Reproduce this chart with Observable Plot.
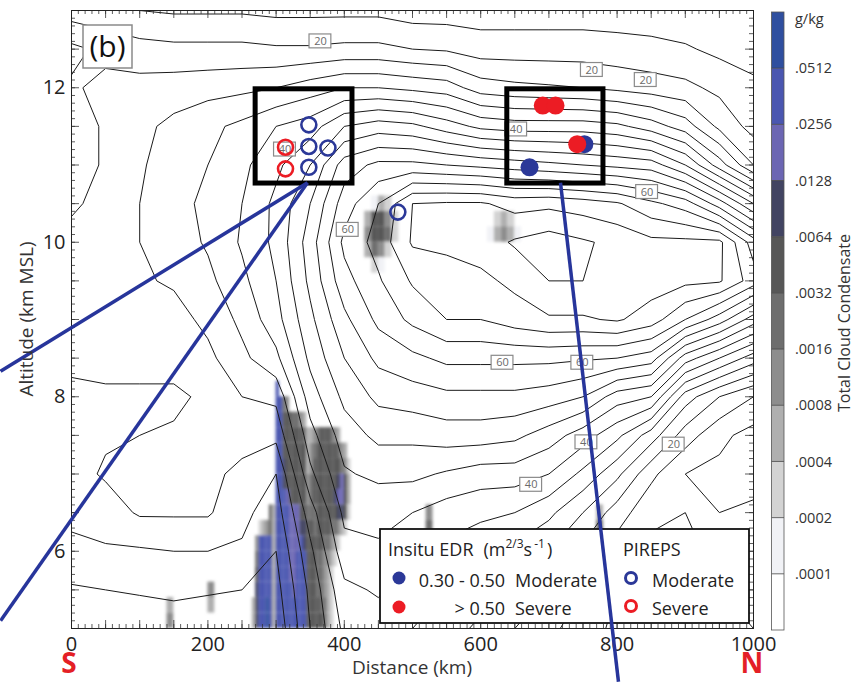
<!DOCTYPE html>
<html><head><meta charset="utf-8">
<script src="https://cdn.jsdelivr.net/npm/d3@7"></script>
<script src="https://cdn.jsdelivr.net/npm/@observablehq/plot@0.6"></script>
<style>
html,body{margin:0;padding:0;background:#fff;}
#chart{position:relative;width:856px;height:682px;}
</style></head><body><div id="chart"></div>
<script>
// ---------- data ----------
const gridX = [0,50,100,150,200,250,300,350,400,450,500,550,600,650,700,750,800,850,900,950,1000];
const gridAlt = [13,12.5,12,11.5,11,10.5,10,9.5,9,8.5,8,7.5,7,6.5,6,5.5,5];
// wind speed field (rows = gridAlt, columns = gridX)
const windRows = [
 [18,17,16,15.5,15.5,15.5,15,15,15,15,14,14,14,14,14,14,14,14,13,12,12],
 [25,23,21.5,21,21,21,20.5,20.5,21,21,20,19.5,18,18,18,18,17.5,17,16.5,15,14],
 [23.5,25,25.5,26,26.5,27,28,30,32,32,31,30,26,25,24.5,24,23,22,21,19,17],
 [22,24.5,27,29,31,33,36,38,44,46,45,42,39,38,38,38,37,34,30,23,18.5],
 [22,24.5,27.5,30,32,35,39,44,54,57,57,56,55,54,53,52,51,50,44,34,24],
 [23.5,25,28,30.5,33,36,41,48,58,64,72,72.5,72.5,70.5,71,70,68.5,65,62,54,44],
 [25,26,28,30,32.5,36.5,41,50,61,65.5,72.5,73,74,76.5,78,76.5,75,73,73,73,62],
 [25.5,26.5,27.5,28.5,31,35,40,49,58.5,63.5,68.5,70,71,73,76,76,75,74,73,72.5,66],
 [25,26,26.5,26.5,29,33,38.5,47,55,61,65,68,68,70,71.5,71.5,72.5,70,64,58,50],
 [24.5,25,25,25,27,31,35,45,52,57,59,61,61,61,61,60.5,60,58,46,40,34],
 [23.5,23.5,23.5,23.5,24.5,28,29,42,49,53,54,55,55,55,54,52,46,44,30,24,20],
 [23,23.5,24,24.3,24,25.5,25,38.5,46,49,49,50,50,49,46,42,37,30,22,17,14.5],
 [22.5,24.5,25.5,25.5,25,23,20,35,43.5,45,45,43.5,42,42,40,35,29,21,16,15,15],
 [21,22,24.5,24.5,24.5,21,18,30,41,41,40,38,37,36,33,28,22,17,16,16,16.5],
 [19,19.5,19.5,20,20,19.5,16,27,38.5,39.5,37,35,33,31,28,23,18,15,15.5,16.5,17],
 [15.5,16,16.5,17,16.5,16,14.5,25,35,36.5,34,32,30,27,24,20,16,14,15,16,16.5],
 [12,12.5,13,13.5,13,12,13,24,33,34,32,30,27,24,21,18,15,13,14,15,16]
];
const contourLevels = [4,8,12,16,20,24,28,32,36,40,44,48,52,56,60,64,68,72,76];

// contour labels
const labelX    = [365, 763, 842, 313, 652, 844, 405, 632, 749, 755, 883, 674];
const labelAlt  = [12.6, 12.23, 12.1, 11.2, 11.46, 10.65, 10.16, 8.44, 8.44, 7.41, 7.38, 6.86];
const labelText = ["20","20","20","40","40","60","60","60","60","40","20","40"];

// cloud condensate classes (0 = none, 1..a = colorbar bins); cells dx km wide, 0.2 km tall
const condPatches = [
 {x0:262.5, dx:5, alt:8.1, classes:"00000000900000000000000000000000"},
 {x0:262.5, dx:5, alt:7.9, classes:"00000000995400000000000000000000"},
 {x0:262.5, dx:5, alt:7.7, classes:"00000000996665543000000000000000"},
 {x0:262.5, dx:5, alt:7.5, classes:"00000000996666665334566654300000"},
 {x0:262.5, dx:5, alt:7.3, classes:"00000000996666666345666666543000"},
 {x0:262.5, dx:5, alt:7.1, classes:"00000000997666666346666666654200"},
 {x0:262.5, dx:5, alt:6.9, classes:"00000000997666666456666666786300"},
 {x0:262.5, dx:5, alt:6.7, classes:"00000000999866666456666667886300"},
 {x0:262.5, dx:5, alt:6.5, classes:"00000053999988866555666666776200"},
 {x0:262.5, dx:5, alt:6.3, classes:"00023453999988877665666655432000"},
 {x0:262.5, dx:5, alt:6.1, classes:"00499993999988897666665543200000"},
 {x0:262.5, dx:5, alt:5.9, classes:"00599993999988999666554432000000"},
 {x0:262.5, dx:5, alt:5.7, classes:"00699993999988999666554320000000"},
 {x0:262.5, dx:5, alt:5.5, classes:"00799993999998999666554320000000"},
 {x0:262.5, dx:5, alt:5.3, classes:"03799a93999999999666655320000000"},
 {x0:262.5, dx:5, alt:5.1, classes:"03799a93999999999666665320000000"},
 {x0:145, dx:10, alt:5.3, classes:"3"},
 {x0:145, dx:10, alt:5.1, classes:"4"},
 {x0:205, dx:10, alt:5.5, classes:"4"},
 {x0:205, dx:10, alt:5.3, classes:"3"},
 {x0:435, dx:10, alt:10.5, classes:"013200"},
 {x0:435, dx:10, alt:10.3, classes:"366420"},
 {x0:435, dx:10, alt:10.1, classes:"466520"},
 {x0:435, dx:10, alt:9.9,  classes:"354200"},
 {x0:435, dx:10, alt:9.7,  classes:"021000"},
 {x0:615, dx:10, alt:10.3, classes:"02320"},
 {x0:615, dx:10, alt:10.1, classes:"13431"},
 {x0:525, dx:10, alt:6.5, classes:"4"},
 {x0:525, dx:10, alt:6.3, classes:"5"},
 {x0:775, dx:10, alt:6.5, classes:"3"},
 {x0:775, dx:10, alt:6.3, classes:"5"}
];
const condColors = ["#ffffff","#f1f2f6","#d3d3d3","#afafaf","#8d8d8d","#6e6e6e","#575757","#424462","#6c66b3","#4a56b0","#2f4f9f"];
const condBoundLabels = [".0512",".0256",".0128",".0064",".0032",".0016",".0008",".0004",".0002",".0001"];

// observations
const pirepModX = [348, 348, 376, 348, 478.5];
const pirepModAlt = [11.52, 11.24, 11.22, 10.97, 10.39];
const pirepSevX = [313.8, 313.8];
const pirepSevAlt = [11.23, 10.95];
const edrModX = [671.6, 752];
const edrModAlt = [10.97, 11.27];
const edrSevX = [691, 709.7, 741.5];
const edrSevAlt = [11.77, 11.77, 11.27];

// highlight boxes and flight tracks
const boxX1 = [270, 639], boxX2 = [412, 780], boxAlt1 = [10.76, 10.76], boxAlt2 = [11.98, 11.98];
const trackX1 = [346, 346, 717], trackAlt1 = [10.77, 10.77, 10.77];
const trackX2 = [-104, -104, 802], trackAlt2 = [8.33, 5.1, 4.31];

const xTicks = [0,200,400,600,800,1000];
const yTicks = [6,8,10,12];

// ---------- build ----------
const blue = "#2b3898", red = "#ec1c24", trackBlue = "#27359b";
const cells = [];
condPatches.forEach(p => [...p.classes].forEach((c, i) => {
  const v = parseInt(c, 16);
  if (v > 0) cells.push({x: p.x0 + p.dx * i, w: p.dx, alt: p.alt, cls: v});
}));
const labels = labelX.map((x, i) => ({x, alt: labelAlt[i], t: labelText[i]}));
const boxes = boxX1.map((x, i) => ({x1: x, x2: boxX2[i], y1: boxAlt1[i], y2: boxAlt2[i]}));
const tracks = trackX1.map((x, i) => ({x1: x, y1: trackAlt1[i], x2: trackX2[i], y2: trackAlt2[i]}));
const pts = (X, A) => X.map((x, i) => ({x, alt: A[i]}));

const xMinor = d3.range(0, 1001, 10), xMajor = d3.range(0, 1001, 50);
const yMinor = d3.range(5, 13.001, 0.1), yMajor = d3.range(5, 13.001, 0.5);
const kmPerPx = 1000 / 682, altPerPx = 8 / 618;

const plot = Plot.plot({
  width: 856, height: 682,
  marginLeft: 71, marginRight: 103, marginTop: 10, marginBottom: 54,
  style: {fontFamily: "'Open Sans', sans-serif", fontSize: "20px", color: "#222", background: "white", overflow: "visible"},
  x: {domain: [0, 1000], ticks: xTicks, tickSize: 0, tickPadding: 8, tickFormat: d => String(d), label: null},
  y: {domain: [5, 13], ticks: yTicks, tickSize: 0, tickPadding: 6, tickFormat: d => String(d), label: null},
  color: {type: "ordinal", domain: d3.range(1, 11), range: condColors.slice(1)},
  marks: [
    Plot.rect(cells, {x1: d => d.x - d.w / 2, x2: d => d.x + d.w / 2, y1: d => d.alt - 0.1, y2: d => d.alt + 0.1, fill: "cls", clip: true}),
    Plot.contour(windRows.flat(), {value: d => d, width: gridX.length, height: gridAlt.length,
      x1: -25, x2: 1025, y1: 13.25, y2: 4.75, thresholds: contourLevels,
      fill: "none", stroke: "#1a1a1a", strokeWidth: 1, clip: true}),
    Plot.rect(labels, {x1: d => d.x - 16, x2: d => d.x + 16, y1: d => d.alt - 0.09, y2: d => d.alt + 0.09, fill: "white", stroke: "#8a8a8a", strokeWidth: 1.2}),
    Plot.text(labels, {x: "x", y: "alt", text: "t", fill: "#6a6a6a", fontSize: 11}),
    Plot.ruleX(xMinor, {x: d => d, y1: 5, y2: 5 + 4 * altPerPx, stroke: "#333", strokeWidth: 0.8}),
    Plot.ruleX(xMajor, {x: d => d, y1: 5, y2: 5 + 8 * altPerPx, stroke: "#333", strokeWidth: 0.8}),
    Plot.ruleX(xMinor, {x: d => d, y1: 13, y2: 13 - 4 * altPerPx, stroke: "#333", strokeWidth: 0.8}),
    Plot.ruleX(xMajor, {x: d => d, y1: 13, y2: 13 - 8 * altPerPx, stroke: "#333", strokeWidth: 0.8}),
    Plot.ruleY(yMinor, {y: d => d, x1: 0, x2: 4 * kmPerPx, stroke: "#333", strokeWidth: 0.8}),
    Plot.ruleY(yMajor, {y: d => d, x1: 0, x2: 8 * kmPerPx, stroke: "#333", strokeWidth: 0.8}),
    Plot.ruleY(yMinor, {y: d => d, x1: 1000, x2: 1000 - 4 * kmPerPx, stroke: "#333", strokeWidth: 0.8}),
    Plot.ruleY(yMajor, {y: d => d, x1: 1000, x2: 1000 - 8 * kmPerPx, stroke: "#333", strokeWidth: 0.8}),
    Plot.frame({stroke: "#222", strokeWidth: 1}),
    Plot.rect(boxes, {x1: "x1", x2: "x2", y1: "y1", y2: "y2", fill: "none", stroke: "black", strokeWidth: 5}),
    Plot.link(tracks, {x1: "x1", y1: "y1", x2: "x2", y2: "y2", stroke: trackBlue, strokeWidth: 3.5}),
    Plot.dot(pts(pirepModX, pirepModAlt), {x: "x", y: "alt", r: 7.5, fill: "none", stroke: blue, strokeWidth: 2.6}),
    Plot.dot(pts(pirepSevX, pirepSevAlt), {x: "x", y: "alt", r: 7.5, fill: "none", stroke: red, strokeWidth: 2.6}),
    Plot.dot(pts(edrModX, edrModAlt), {x: "x", y: "alt", r: 9, fill: blue}),
    Plot.dot(pts(edrSevX, edrSevAlt), {x: "x", y: "alt", r: 9, fill: red})
  ]
});
document.getElementById("chart").appendChild(plot);

// ---------- decorations (legend, colorbar, titles) ----------
const svg = d3.select(plot);
const NS = "http://www.w3.org/2000/svg";
const defs = svg.insert("defs", ":first-child");
defs.append("filter").attr("id", "condBlur").attr("x", "-20%").attr("y", "-20%").attr("width", "140%").attr("height", "140%")
  .append("feGaussianBlur").attr("stdDeviation", 1.8);
const rectGroups = plot.querySelectorAll('g[aria-label="rect"]');
if (rectGroups.length) {
  const g = rectGroups[0];
  const inner = document.createElementNS(NS, "g");
  while (g.firstChild) inner.appendChild(g.firstChild);
  inner.setAttribute("filter", "url(#condBlur)");
  g.appendChild(inner);
}

const font = "'Open Sans', sans-serif";
const linkGroup = plot.querySelector('g[aria-label="link"]');
const lg = d3.create("svg:g").attr("font-family", font).attr("fill", "#222").attr("text-anchor", "start").attr("font-size", 18);
lg.append("rect").attr("x", 380).attr("y", 529).attr("width", 369).attr("height", 94)
  .attr("fill", "white").attr("stroke", "#111").attr("stroke-width", 1.8);
const t1 = lg.append("text").attr("x", 388).attr("y", 556);
t1.append("tspan").text("Insitu EDR");
t1.append("tspan").attr("dx", 10).text("(m");
t1.append("tspan").attr("font-size", 12).attr("dy", -8).text("2/3");
t1.append("tspan").attr("font-size", 18).attr("dy", 8).text("s");
t1.append("tspan").attr("font-size", 12).attr("dy", -8).attr("dx", 2).text("-1");
t1.append("tspan").attr("font-size", 18).attr("dy", 8).attr("dx", 2).text(")");
lg.append("text").attr("x", 623).attr("y", 556).text("PIREPS");
lg.append("circle").attr("cx", 399).attr("cy", 578).attr("r", 6.5).attr("fill", blue);
lg.append("circle").attr("cx", 399).attr("cy", 607).attr("r", 6.5).attr("fill", red);
lg.append("text").attr("x", 505).attr("y", 587).attr("text-anchor", "end").text("0.30 - 0.50");
lg.append("text").attr("x", 505).attr("y", 615).attr("text-anchor", "end").text("> 0.50");
lg.append("text").attr("x", 515).attr("y", 587).text("Moderate");
lg.append("text").attr("x", 515).attr("y", 615).text("Severe");
lg.append("circle").attr("cx", 631).attr("cy", 578).attr("r", 5.5).attr("fill", "none").attr("stroke", blue).attr("stroke-width", 3);
lg.append("circle").attr("cx", 631).attr("cy", 606).attr("r", 5.5).attr("fill", "none").attr("stroke", red).attr("stroke-width", 3);
lg.append("text").attr("x", 652).attr("y", 587).text("Moderate");
lg.append("text").attr("x", 652).attr("y", 615).text("Severe");
plot.insertBefore(lg.node(), linkGroup);

// panel tag
const tag = d3.create("svg:g").attr("font-family", font);
tag.append("rect").attr("x", 83).attr("y", 25).attr("width", 49).attr("height", 43).attr("fill", "white").attr("stroke", "#8a8a8a").attr("stroke-width", 1.5);
tag.append("text").attr("x", 107.5).attr("y", 57).attr("text-anchor", "middle").attr("font-size", 30).attr("fill", "#111").text("(b)");
plot.insertBefore(tag.node(), linkGroup);

// axis titles and S / N
const ttl = svg.append("g").attr("font-family", font).attr("text-anchor", "middle");
ttl.append("text").attr("x", 412).attr("y", 674).attr("font-size", 19).attr("fill", "#333").text("Distance (km)");
ttl.append("text").attr("transform", "translate(33,319) rotate(-90)").attr("font-size", 19).attr("fill", "#333").text("Altitude (km MSL)");
ttl.append("text").attr("x", 69).attr("y", 673).attr("font-weight", "bold").attr("font-size", 28).attr("fill", "#e41f26").text("S");
ttl.append("text").attr("x", 752).attr("y", 673).attr("font-weight", "bold").attr("font-size", 28).attr("fill", "#e41f26").text("N");

// colorbar
const cb = svg.append("g").attr("font-family", font).attr("text-anchor", "start");
const cbTop = 12, cbBot = 630, nb = condColors.length, bh = (cbBot - cbTop) / nb;
condColors.slice().reverse().forEach((c, i) => {
  cb.append("rect").attr("x", 771.5).attr("y", cbTop + i * bh).attr("width", 12.5).attr("height", bh).attr("fill", c);
});
condBoundLabels.forEach((l, i) => {
  const y = cbTop + (i + 1) * bh;
  cb.append("line").attr("x1", 771.5).attr("x2", 784).attr("y1", y).attr("y2", y).attr("stroke", "#444").attr("stroke-width", 0.8);
  cb.append("text").attr("x", 795).attr("y", y).attr("dy", "0.35em").attr("font-size", 14.5).attr("fill", "#333").text(l);
});
cb.append("rect").attr("x", 771.5).attr("y", cbTop).attr("width", 12.5).attr("height", cbBot - cbTop).attr("fill", "none").attr("stroke", "#555").attr("stroke-width", 0.8);
cb.append("text").attr("x", 795).attr("y", 19).attr("dy", "0.35em").attr("font-size", 14.5).attr("fill", "#333").text("g/kg");
cb.append("text").attr("transform", "translate(850,323) rotate(-90)").attr("text-anchor", "middle").attr("font-size", 16).attr("fill", "#333").text("Total Cloud Condensate");
</script></body></html>
